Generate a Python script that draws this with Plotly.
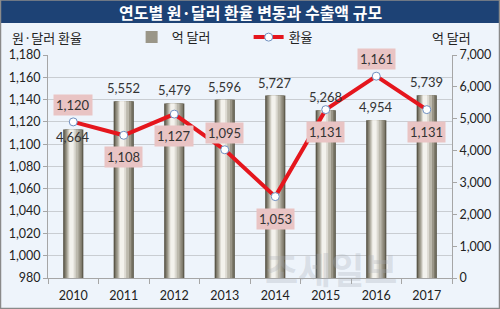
import plotly.graph_objects as go

years = [2010, 2011, 2012, 2013, 2014, 2015, 2016, 2017]
exports = [4664, 5552, 5479, 5596, 5727, 5268, 4954, 5739]
rates = [1120, 1108, 1127, 1095, 1053, 1131, 1161, 1131]
rate_label_side = ["above", "below", "below", "above", "below", "below", "above", "below"]
export_label_side = ["inside", "above", "above", "above", "above", "above", "above", "above"]

title_text = "연도별 원·달러 환율 변동과 수출액 규모"
left_title = "원·달러 환율"
right_title = "억 달러"
bar_name = "억 달러"
line_name = "환율"

KR = "Noto Sans CJK KR"
NUM = "Lato"
BG = "#eef4fb"

fig = go.Figure()

# cylinder-like bar: nested layers (fractions of bar width from left edge)
BW = 0.4
layers = [
    (0.00, 1.00, "#5c584a"),
    (0.07, 0.94, "#7f7b6c"),
    (0.13, 0.86, "#9a9688"),
    (0.20, 0.76, "#bcb9ad"),
    (0.26, 0.62, "#dcdad2"),
    (0.31, 0.52, "#f3f2ed"),
]
for i, (a, b, c) in enumerate(layers):
    fig.add_trace(go.Bar(
        x=years, y=exports, yaxis="y",
        width=BW * (b - a),
        offset=-BW / 2 + BW * a,
        marker=dict(color=c, line=dict(width=0)),
        name=bar_name, showlegend=(i == 2), hoverinfo="skip",
    ))

fig.add_trace(go.Scatter(
    x=years, y=rates, yaxis="y2", mode="lines+markers", name=line_name,
    line=dict(color="#e5161d", width=4),
    marker=dict(size=8, color="white", line=dict(color="#6f8fc0", width=1)),
))

annotations = []
for yr, v, side in zip(years, rates, rate_label_side):
    annotations.append(dict(
        x=yr, y=v, xref="x", yref="y2", text=f"{v:,}", showarrow=False,
        yshift=17 if side == "above" else -22,
        bgcolor="#e9c4c4", borderpad=2,
        font=dict(family=NUM, size=13, color="#333333"),
    ))
for yr, v, side in zip(years, exports, export_label_side):
    annotations.append(dict(
        x=yr, y=v, xref="x", yref="y", text=f"{v:,}", showarrow=False,
        yshift=13 if side == "above" else -8,
        font=dict(family=NUM, size=13, color="#333333"),
    ))

# title bar and texts
annotations.append(dict(
    x=0.5, y=1.195, xref="paper", yref="paper", text=f"<b>{title_text}</b>",
    xanchor="center", yanchor="middle",
    showarrow=False, font=dict(family=KR, size=16, color="white"),
))
annotations.append(dict(
    x=-0.095, y=1.08, xref="paper", yref="paper", text=left_title,
    xanchor="left", yanchor="middle",
    showarrow=False, font=dict(family=KR, size=13, color="#222222"),
))
annotations.append(dict(
    x=1.053, y=1.08, xref="paper", yref="paper", text=right_title,
    xanchor="right", yanchor="middle",
    showarrow=False, font=dict(family=KR, size=13, color="#222222"),
))
annotations.append(dict(
    x=0.70, y=0.045, xref="paper", yref="paper", text="<b>조세일보</b>",
    xanchor="center", yanchor="middle",
    showarrow=False, font=dict(family=KR, size=36, color="rgba(165,170,180,0.3)"),
))

shapes = [
    dict(type="rect", xref="paper", yref="paper", x0=-0.125, x1=1.125, y0=1.1435, y1=1.26,
         fillcolor="#1d4275", line=dict(width=0), layer="below"),
    dict(type="rect", xref="paper", yref="paper", x0=-0.1176, x1=1.1176, y0=-0.1367, y1=1.2466,
         fillcolor="rgba(0,0,0,0)", line=dict(color="#8a8a8a", width=1.5)),
]

fig.update_layout(
    width=500, height=309,
    margin=dict(l=48, r=48, t=55, b=31, autoexpand=False),
    paper_bgcolor=BG, plot_bgcolor=BG,
    barmode="overlay",
    font=dict(family=NUM, size=12.5, color="#222222"),
    xaxis=dict(
        range=[years[0] - 0.5, years[-1] + 0.5], tickvals=years,
        showgrid=False, showline=True, linecolor="#a6a6a6", ticks="",
        ticklabelstandoff=6, automargin=False,
        minor=dict(ticks="outside", ticklen=5, tickcolor="#a6a6a6",
                   tick0=years[0] - 0.5, dtick=1, showgrid=False),
        tickfont=dict(family=NUM, size=12.5, color="#222222"),
    ),
    yaxis=dict(
        side="right", range=[0, 7000], dtick=1000, tickformat=",",
        showgrid=False, showline=True, linecolor="#a6a6a6", automargin=False,
        ticks="outside", ticklen=4, tickcolor="#a6a6a6", zeroline=False,
        tickfont=dict(family=NUM, size=12.5, color="#222222"),
    ),
    yaxis2=dict(
        side="left", overlaying="y", range=[980, 1180], dtick=20, tickformat=",",
        showgrid=True, gridcolor="#c9cdd2", gridwidth=1, automargin=False,
        showline=True, linecolor="#a6a6a6",
        ticks="outside", ticklen=4, tickcolor="#a6a6a6", zeroline=False,
        tickfont=dict(family=NUM, size=12.5, color="#222222"),
    ),
    legend=dict(
        orientation="h", x=0.207, y=1.08, xanchor="left", yanchor="middle",
        bgcolor="rgba(0,0,0,0)", font=dict(family=KR, size=13, color="#222222"),
        entrywidth=72, entrywidthmode="pixels", traceorder="normal",
    ),
    annotations=annotations, shapes=shapes,
)

fig.write_html("out.html")
